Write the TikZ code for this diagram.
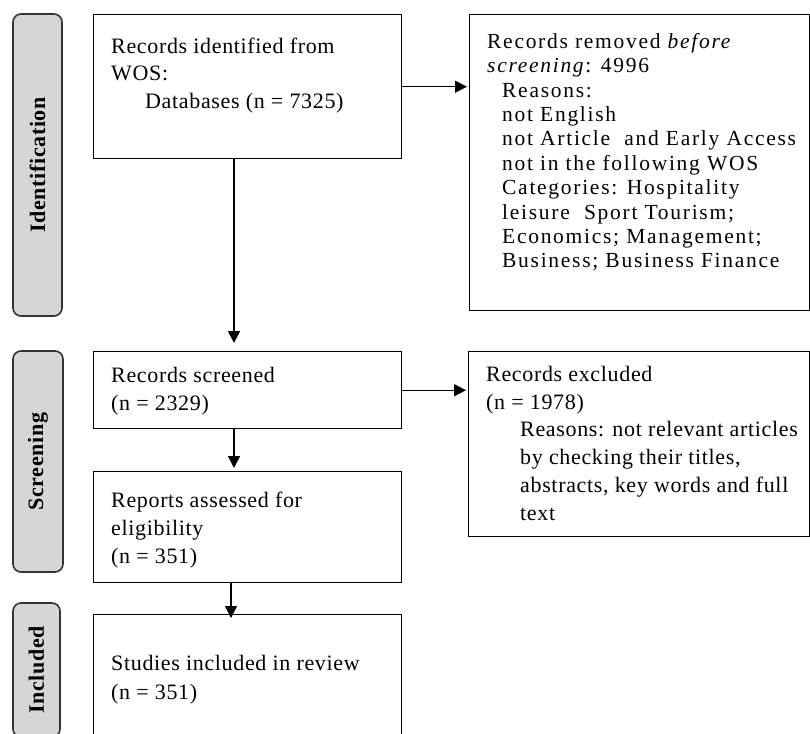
\documentclass[tikz,border=0pt]{standalone}
\usepackage{fontspec}
\setmainfont{Liberation Serif}[LetterSpace=3]
\newfontfamily\widefont{Liberation Serif}[LetterSpace=8]
\usetikzlibrary{arrows.meta,calc}
\definecolor{pillgray}{HTML}{D6D6D6}
\definecolor{pillline}{HTML}{333333}
\newcommand{\firststrut}{\rule{0pt}{17pt}}
\tikzset{
  box/.style={draw=black, line width=1.4pt, rectangle, anchor=north west, inner sep=0pt},
  pill/.style={draw=pillline, fill=pillgray, rounded corners=8pt, line width=1.6pt, inner sep=0pt,
    rotate=90, font=\bfseries\fontsize{22}{24}\selectfont},
  txt/.style={anchor=north west, inner sep=0pt, align=left},
  arr/.style={-{Triangle[length=12pt,width=12pt]}, line width=1.4pt},
}
\begin{document}
\begin{tikzpicture}[x=1pt,y=-1pt]
\useasboundingbox (0,0) rectangle (810,733);
\clip (0,0) rectangle (810,733);
% phase labels
\node[pill, minimum width=302, minimum height=49] (pid) at (37.5,165) {Identification};
\node[pill, minimum width=221, minimum height=50] (pscr) at (38,461.5) {Screening};
\node[pill, minimum width=134, minimum height=47] (pinc) at (36.5,670) {Included};
% boxes
\node[box, minimum width=308, minimum height=144] (top) at (93,14) {};
\node[box, minimum width=339.5, minimum height=296] (rem) at (469,14) {};
\node[box, minimum width=308, minimum height=77] (scr) at (93,351) {};
\node[box, minimum width=341, minimum height=185] (exc) at (468,351) {};
\node[box, minimum width=308, minimum height=111] (eli) at (93,471) {};
\node[box, minimum width=308, minimum height=140] (inc) at (93,614) {};
% texts
\node[txt, font=\fontsize{22}{27.5}\selectfont] (ttop) at (111,36)
  {\firststrut Records identified from\\WOS:\\\hspace*{34pt}Databases (n = 7325)};
\node[txt, font=\widefont\fontsize{21.5}{24.4}\selectfont] (trem) at (487,31)
  {\firststrut Records removed \textit{before}\\
   \textit{screening}: 4996\\
   \hspace*{15pt}Reasons:\\
   \hspace*{15pt}not English\\
   \hspace*{15pt}not Article~ and Early Access\\
   \hspace*{15pt}not in the following WOS\\
   \hspace*{15pt}Categories: Hospitality\\
   \hspace*{15pt}leisure~ Sport Tourism;\\
   \hspace*{15pt}Economics; Management;\\
   \hspace*{15pt}Business; Business Finance};
\node[txt, font=\fontsize{22}{28}\selectfont] (tscr) at (111,365)
  {\firststrut Records screened\\(n = 2329)};
\node[txt, font=\fontsize{22}{27.8}\selectfont] (texc) at (486,364)
  {\firststrut Records excluded\\(n = 1978)\\
   \hspace*{34pt}Reasons: not relevant articles\\
   \hspace*{34pt}by checking their titles,\\
   \hspace*{34pt}abstracts, key words and full\\
   \hspace*{34pt}text};
\node[txt, font=\fontsize{22}{28}\selectfont] (teli) at (111,490)
  {\firststrut Reports assessed for\\eligibility\\(n = 351)};
\node[txt, font=\fontsize{22}{29}\selectfont] (tinc) at (111,653)
  {\firststrut Studies included in review\\(n = 351)};
% connectors
\draw[arr, shorten >=8pt] ([xshift=141pt]top.south west) -- ([xshift=141pt]scr.north west);
\draw[arr, shorten >=2pt] (top.east) -- (top.east -| rem.west);
\draw[arr, shorten >=2pt] (scr.east) -- (scr.east -| exc.west);
\draw[arr, shorten >=3pt] ([xshift=141pt]scr.south west) -- ([xshift=141pt]eli.north west);
\draw[arr, shorten >=-4pt] ([xshift=138pt]eli.south west) -- ([xshift=138pt]inc.north west);
\end{tikzpicture}
\end{document}
